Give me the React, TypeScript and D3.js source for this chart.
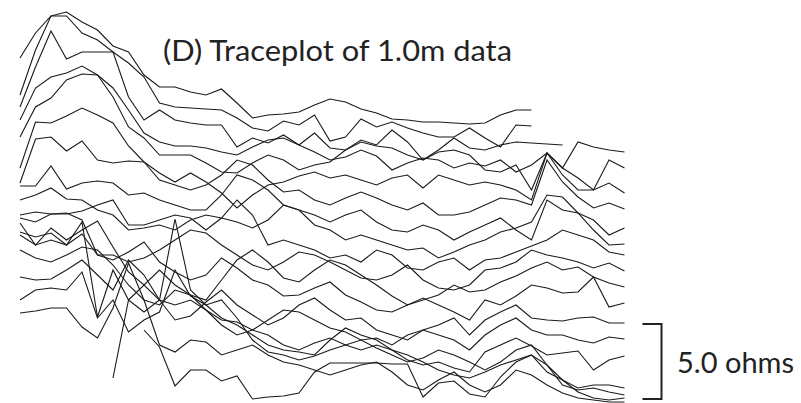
import React from "react";
import * as d3 from "d3";

const WIDTH = 801;
const HEIGHT = 403;

// sample positions along the transect (index 0..39)
const positions: number[] = Array.from({ length: 40 }, (_, i) => i);

// stacked trace levels (scaled units, 15 units per ohm, increasing downward)
const t1 = [58,33,16,12,22,30,46,52,75,87, 87,92,95,89,103,118,115,114,112,105, 99,102,109,113,119,120,122,122,123,124, 123,115,110,110,null,null,null,null,null,null];
const t2 = [95,50,16,16,33,40,52,63,77,103, 107,108,109,110,118,128,131,121,125,115, 141,137,119,127,122,128,133,137,137,128, 138,147,125,126,null,null,null,null,null,null];
const t3 = [107,67,31,59,52,52,52,97,120,110, 120,123,125,125,147,138,143,135,145,133, 148,150,140,145,130,142,160,150,138,148, 150,145,142,143,144,145,null,null,null,null];
const t4 = [120,88,77,73,66,75,88,110,133,142, 146,146,148,152,155,147,140,138,145,152, 160,157,150,156,170,163,158,160,168,163, 166,160,172,165,153,168,142,147,150,152];
const t5 = [137,107,98,80,74,75,97,127,138,155, 155,155,163,172,173,163,155,160,170,165, 162,150,142,146,148,155,160,152,150,155, 170,172,165,190,153,168,178,190,160,168];
const t6 = [168,122,123,116,108,115,123,146,162,173, 182,173,182,193,208,195,185,182,176,172, 178,175,180,185,178,175,188,175,180,185, 182,185,190,200,153,175,190,190,183,193];
const t7 = [183,139,137,151,141,160,163,161,162,180, 185,190,185,175,160,165,180,192,190,200, 205,198,192,198,205,210,203,215,215,212, 205,198,200,205,160,182,197,208,203,209];
const t8 = [186,186,166,189,183,181,183,195,193,200, 205,210,210,195,175,180,190,205,210,215, 222,215,210,222,230,232,225,230,240,232, 225,218,230,240,200,210,213,220,235,228];
const t9 = [200,195,188,199,200,210,215,230,228,225, 230,220,215,218,222,228,220,205,210,225, 230,240,235,240,245,250,248,258,252,245, 240,232,228,222,195,197,213,230,245,244];
const t10 = [215,212,214,214,211,205,200,225,225,220, 215,218,230,218,200,215,245,240,245,250, 258,255,262,250,255,268,270,262,258,270, 260,258,252,246,240,230,235,240,252,255];
const t11 = [218,222,214,213,220,255,255,262,258,250, 240,230,233,245,255,265,270,262,252,255, 262,270,278,280,275,265,280,288,290,285, 270,268,262,250,255,258,262,268,263,271];
const t12 = [223,245,228,240,230,221,247,272,285,270, 285,295,300,280,260,250,262,278,282,270, 260,265,275,285,296,305,300,295,285,292, 290,282,276,268,262,270,267,277,283,287];
const t13 = [232,237,233,245,234,255,260,252,242,262, 272,280,275,258,268,280,285,296,295,288, 282,295,302,310,312,305,298,305,312,320, 300,305,296,285,288,293,292,277,307,303];
const t14 = [235,245,240,245,222,317,270,300,285,300, 320,316,302,290,305,315,325,318,305,298, 310,320,318,330,335,340,330,325,318,335, 320,312,305,318,320,321,318,317,323,323];
const t15 = [250,258,262,255,247,250,265,285,300,305, 290,295,310,325,335,330,320,310,312,320, 328,332,340,338,345,335,330,335,340,350, 335,325,318,330,335,335,340,343,337,339];
const t16 = [277,280,279,270,260,275,290,260,275,300, 305,300,310,320,322,330,335,345,350,343, 338,345,350,345,350,360,365,362,368,372, 352,345,338,346,355,353,351,370,360,356];
const t17 = [300,290,288,290,272,318,300,332,320,312, 270,296,305,318,325,335,345,350,352,355, 340,328,335,340,350,355,362,370,375,378, 372,365,360,355,372,380,388,385,385,388];
const t18 = [313,311,308,308,327,338,308,263,300,345, 352,340,342,355,350,345,355,362,365,370, 375,370,365,362,372,385,390,380,372,385, 392,385,370,375,385,393,398,400,402,402];
const t19 = [null,null,null,null,null,null, 378,300,312,300, 219,290,305,300,318,340,352,355,360,356, 350,345,340,348,355,362,358,350,355,362, 370,362,350,345,365,385,390,388,392,395];
const t20 = [null,null,null,null,null,null,null,null, 330,347, 386,370,370,381,376,399,397,396,393,372, 363,363,363,363,364,364,397,383,381,394, 397,377,362,355,365,380,392,398,400,398];

const traces: (number | null)[][] = [t1,t2,t3,t4,t5,t6,t7,t8,t9,t10,t11,t12,t13,t14,t15,t16,t17,t18,t19,t20];

const titleText = "(D) Traceplot of 1.0m data";
const scaleOhms = 5.0;
const unitsPerOhm = 15;
const scaleLabel = "5.0 ohms";
const scaleBarBottomLevel = 399;

export default function App() {
  const x = d3.scaleLinear().domain([0, 39]).range([20, 624.5]);
  const y = d3.scaleLinear().domain([0, 400]).range([0, 400]);

  const line = d3
    .line<number | null>()
    .defined((d) => d != null)
    .x((_, i) => x(positions[i]))
    .y((d) => y(d as number));

  const barBottom = y(scaleBarBottomLevel);
  const barTop = y(scaleBarBottomLevel - scaleOhms * unitsPerOhm);
  const barX = 661.5;

  return (
    <svg
      width={WIDTH}
      height={HEIGHT}
      style={{ position: "absolute", left: 0, top: 0, background: "#fff" }}
    >
      <rect width={WIDTH} height={HEIGHT} fill="#fff" />
      <g fill="none" stroke="#1a1a1a" strokeWidth={1.1} strokeLinejoin="miter">
        {traces.map((t, k) => (
          <path key={k} d={line(t) || ""} />
        ))}
      </g>
      <text
        x={163}
        y={61}
        fontFamily="Lato, 'Open Sans', sans-serif"
        fontSize={29}
        fill="#222"
        textLength={349}
        lengthAdjust="spacingAndGlyphs"
      >
        {titleText}
      </text>
      <path
        d={`M${barX - 19},${barTop}H${barX}V${barBottom}H${barX - 19}`}
        fill="none"
        stroke="#222"
        strokeWidth={2}
      />
      <text
        x={677}
        y={373}
        fontFamily="Lato, 'Open Sans', sans-serif"
        fontSize={29}
        fill="#222"
        textLength={117}
        lengthAdjust="spacingAndGlyphs"
      >
        {scaleLabel}
      </text>
    </svg>
  );
}
